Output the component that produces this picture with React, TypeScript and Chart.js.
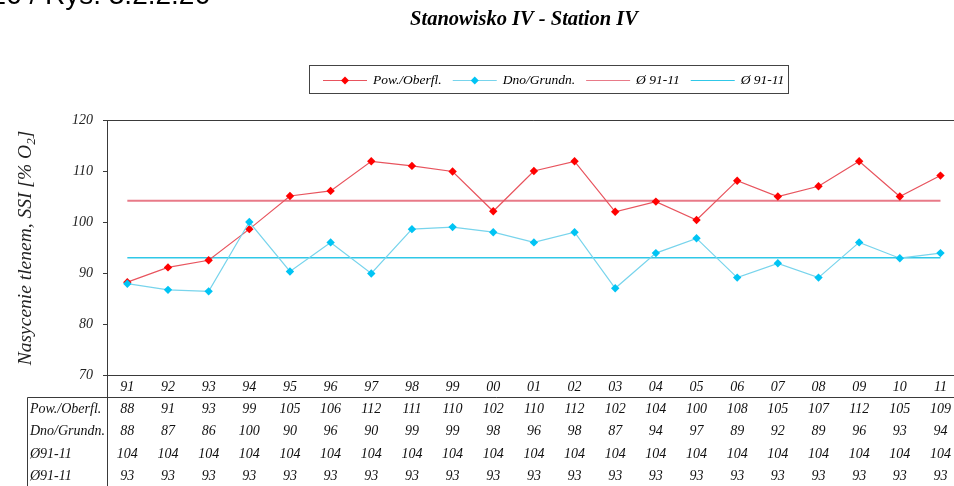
import React, { useEffect, useRef } from "react";
import { Chart, registerables } from "chart.js";

Chart.register(...registerables);

const years = ["91", "92", "93", "94", "95", "96", "97", "98", "99", "00", "01", "02", "03", "04", "05", "06", "07", "08", "09", "10", "11"];
const surface = [88.2, 91.1, 92.5, 98.6, 105.1, 106.1, 111.9, 111.0, 109.9, 102.1, 110.0, 111.9, 102.0, 104.0, 100.4, 108.1, 105.0, 107.0, 111.9, 105.0, 109.1];
const bottomLayer = [87.9, 86.7, 86.4, 100.0, 90.3, 96.0, 89.9, 98.6, 99.0, 98.0, 96.0, 98.0, 87.0, 93.9, 96.8, 89.1, 91.9, 89.1, 96.0, 92.9, 93.9];
const surfaceMean = [104.15, 104.15, 104.15, 104.15, 104.15, 104.15, 104.15, 104.15, 104.15, 104.15, 104.15, 104.15, 104.15, 104.15, 104.15, 104.15, 104.15, 104.15, 104.15, 104.15, 104.15];
const bottomMean = [93.0, 93.0, 93.0, 93.0, 93.0, 93.0, 93.0, 93.0, 93.0, 93.0, 93.0, 93.0, 93.0, 93.0, 93.0, 93.0, 93.0, 93.0, 93.0, 93.0, 93.0];

const tableSurface = ["88", "91", "93", "99", "105", "106", "112", "111", "110", "102", "110", "112", "102", "104", "100", "108", "105", "107", "112", "105", "109"];
const tableBottom = ["88", "87", "86", "100", "90", "96", "90", "99", "99", "98", "96", "98", "87", "94", "97", "89", "92", "89", "96", "93", "94"];
const tableSurfaceMean = ["104", "104", "104", "104", "104", "104", "104", "104", "104", "104", "104", "104", "104", "104", "104", "104", "104", "104", "104", "104", "104"];
const tableBottomMean = ["93", "93", "93", "93", "93", "93", "93", "93", "93", "93", "93", "93", "93", "93", "93", "93", "93", "93", "93", "93", "93"];

const seriesNames = ["Pow./Oberfl.", "Dno/Grundn.", "Ø 91-11", "Ø 91-11"];
const rowNames = ["Pow./Oberfl.", "Dno/Grundn.", "Ø91-11", "Ø91-11"];
const yMin = 70;
const yMax = 120;
const yStep = 10;
const titleText = "Stanowisko IV - Station IV";
const headerText = "Ryc. 3.2.2.26 / Rys. 3.2.2.26";
const yTitleMain = "Nasycenie tlenem, SSI [% O";
const yTitleSub = "2";
const yTitleEnd = "]";

const RED = "#ff0000";
const RED_LINE = "#e8545e";
const RED_MEAN = "#e87a88";
const CYAN = "#00c4f4";
const CYAN_LINE = "#78d4ec";
const CYAN_MEAN = "#30c8e8";
const AXIS = "#3a3a3a";
const SERIF = '"Liberation Serif", "Times New Roman", serif';

const overlay = {
  id: "overlay",
  afterDraw(chart: any) {
    const ctx = chart.ctx as CanvasRenderingContext2D;
    const { left, right, top, bottom } = chart.chartArea;
    const xs = chart.scales.x;
    const H = chart.height;
    const W = chart.width;
    ctx.save();

    // cropped header text
    ctx.fillStyle = "#000";
    ctx.font = '28px "Liberation Sans", Arial, sans-serif';
    ctx.textAlign = "right";
    ctx.textBaseline = "alphabetic";
    ctx.fillText(headerText, 210, 4);

    // title
    ctx.font = `italic bold 20.5px ${SERIF}`;
    ctx.textAlign = "center";
    ctx.fillText(titleText, 524, 25);

    // legend
    ctx.font = `italic 13.5px ${SERIF}`;
    ctx.textAlign = "left";
    ctx.textBaseline = "middle";
    const colors = [RED_LINE, CYAN_LINE, RED_MEAN, CYAN_MEAN];
    const markers = [RED, CYAN, null, null];
    const ly = 80.5;
    let lx = 323;
    const boxLeft = 309;
    for (let i = 0; i < seriesNames.length; i++) {
      ctx.strokeStyle = colors[i];
      ctx.lineWidth = 1.2;
      ctx.beginPath();
      ctx.moveTo(lx, ly);
      ctx.lineTo(lx + 44, ly);
      ctx.stroke();
      const m = markers[i];
      if (m) {
        ctx.fillStyle = m;
        ctx.beginPath();
        ctx.moveTo(lx + 22, ly - 4);
        ctx.lineTo(lx + 26, ly);
        ctx.lineTo(lx + 22, ly + 4);
        ctx.lineTo(lx + 18, ly);
        ctx.closePath();
        ctx.fill();
      }
      ctx.fillStyle = "#000";
      ctx.fillText(seriesNames[i], lx + 50, ly);
      lx += 50 + ctx.measureText(seriesNames[i]).width + 11;
    }
    ctx.strokeStyle = "#444";
    ctx.lineWidth = 1;
    ctx.strokeRect(boxLeft + 0.5, 65.5, 479, 28);

    // y axis title
    ctx.save();
    ctx.translate(25, 248);
    ctx.rotate(-Math.PI / 2);
    ctx.font = `italic 19.5px ${SERIF}`;
    const w1 = ctx.measureText(yTitleMain).width;
    ctx.font = `italic 13px ${SERIF}`;
    const w2 = ctx.measureText(yTitleSub).width;
    ctx.font = `italic 19.5px ${SERIF}`;
    const w3 = ctx.measureText(yTitleEnd).width;
    let tx = -(w1 + w2 + w3) / 2;
    ctx.textAlign = "left";
    ctx.textBaseline = "alphabetic";
    ctx.fillStyle = "#222";
    ctx.fillText(yTitleMain, tx, 6);
    tx += w1;
    ctx.font = `italic 13px ${SERIF}`;
    ctx.fillText(yTitleSub, tx, 10);
    tx += w2;
    ctx.font = `italic 19.5px ${SERIF}`;
    ctx.fillText(yTitleEnd, tx, 6);
    ctx.restore();

    // plot top border and table lines
    ctx.strokeStyle = AXIS;
    ctx.lineWidth = 1;
    ctx.beginPath();
    ctx.moveTo(left, top + 0.5);
    ctx.lineTo(right, top + 0.5);
    ctx.moveTo(Math.round(left) + 0.5, bottom);
    ctx.lineTo(Math.round(left) + 0.5, H);
    ctx.moveTo(27.5, 397.5);
    ctx.lineTo(W, 397.5);
    ctx.moveTo(27.5, 397.5);
    ctx.lineTo(27.5, H);
    ctx.stroke();

    // table rows
    const rows = [tableSurface, tableBottom, tableSurfaceMean, tableBottomMean];
    const rowY = [409, 431.5, 454, 476.5];
    ctx.fillStyle = "#111";
    ctx.font = `italic 14px ${SERIF}`;
    ctx.textBaseline = "middle";
    for (let r = 0; r < rows.length; r++) {
      ctx.textAlign = "left";
      ctx.fillText(rowNames[r], 30, rowY[r]);
      ctx.textAlign = "center";
      for (let i = 0; i < rows[r].length; i++) {
        ctx.fillText(rows[r][i], xs.getPixelForValue(i), rowY[r]);
      }
    }
    ctx.restore();
  },
};

export default function App() {
  const ref = useRef<HTMLCanvasElement | null>(null);
  useEffect(() => {
    if (!ref.current) return;
    const chart = new Chart(ref.current, {
      type: "line",
      data: {
        labels: years,
        datasets: [
          {
            label: seriesNames[1],
            data: bottomLayer,
            borderColor: CYAN_LINE,
            borderWidth: 1.2,
            pointStyle: "rectRot",
            pointRadius: 4.2,
            pointBackgroundColor: CYAN,
            pointBorderColor: CYAN,
            pointBorderWidth: 0,
            tension: 0,
            order: 0,
          },
          {
            label: seriesNames[0],
            data: surface,
            borderColor: RED_LINE,
            borderWidth: 1.2,
            pointStyle: "rectRot",
            pointRadius: 4.2,
            pointBackgroundColor: RED,
            pointBorderColor: RED,
            pointBorderWidth: 0,
            tension: 0,
            order: 1,
          },
          {
            label: seriesNames[2],
            data: surfaceMean,
            borderColor: RED_MEAN,
            borderWidth: 2,
            pointRadius: 0,
            order: 2,
          },
          {
            label: seriesNames[3],
            data: bottomMean,
            borderColor: CYAN_MEAN,
            borderWidth: 1.5,
            pointRadius: 0,
            order: 3,
          },
        ],
      },
      options: {
        responsive: false,
        animation: false,
        devicePixelRatio: 1,
        layout: { padding: { top: 120, left: 0, right: 0, bottom: 0 } },
        plugins: {
          legend: { display: false },
          title: { display: false },
          tooltip: { enabled: false },
        },
        scales: {
          x: {
            type: "category",
            offset: true,
            grid: { display: false, drawTicks: false },
            border: { display: true, color: AXIS, width: 1 },
            ticks: {
              color: "#111",
              padding: 4,
              maxRotation: 0,
              autoSkip: false,
              font: { family: SERIF, size: 14, style: "italic" },
            },
            afterFit: (s: any) => {
              s.height = 111;
            },
          },
          y: {
            min: yMin,
            max: yMax,
            ticks: {
              stepSize: yStep,
              color: "#222",
              padding: 10,
              font: { family: SERIF, size: 14, style: "italic" },
            },
            grid: { drawOnChartArea: false, drawTicks: true, tickLength: 4, color: AXIS },
            border: { display: true, color: AXIS, width: 1 },
            afterFit: (s: any) => {
              s.width = 107;
            },
          },
        },
      },
      plugins: [overlay],
    });
    return () => chart.destroy();
  }, []);
  return (
    <div style={{ position: "fixed", left: 0, top: 0, width: 954, height: 486, overflow: "hidden", background: "#fff" }}>
      <canvas ref={ref} width={965} height={486} style={{ width: 965, height: 486, display: "block" }} />
    </div>
  );
}
